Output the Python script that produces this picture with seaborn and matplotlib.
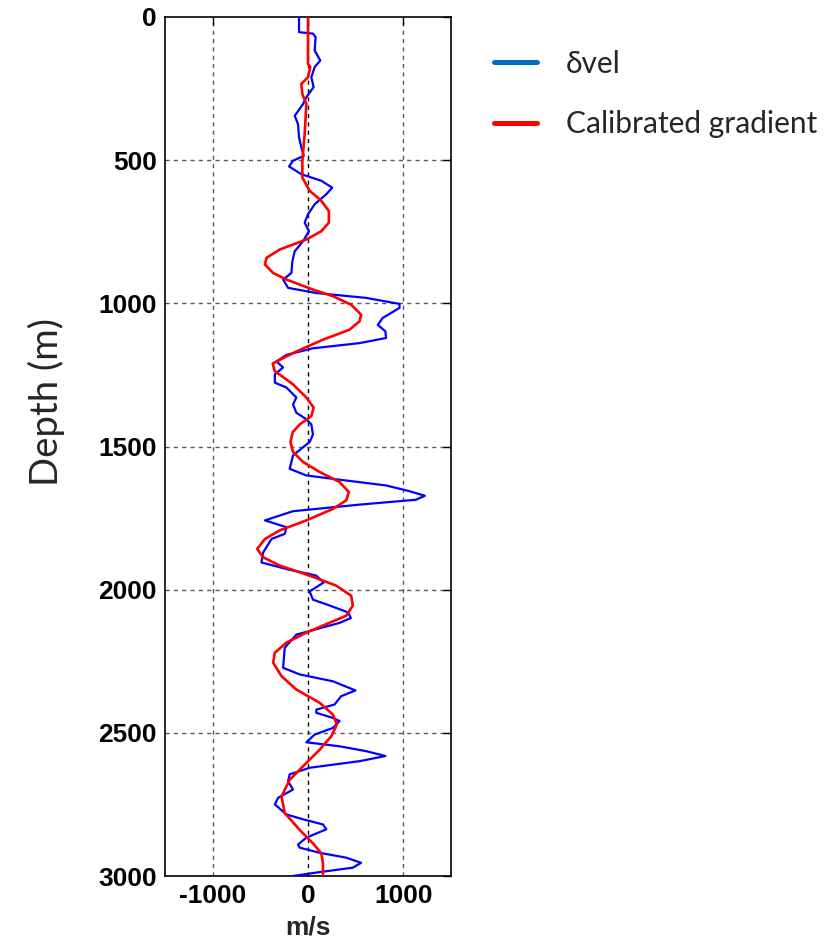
import matplotlib
matplotlib.use("Agg")
import matplotlib.pyplot as plt
import seaborn as sns
import pandas as pd
from matplotlib.lines import Line2D

# ---- data ----
dvel_depth = [0, 53, 58, 70, 117, 152, 175, 210, 245, 280, 304, 345, 374, 420, 455, 485,
              502, 522, 549, 572, 596, 619, 654, 689, 718, 748, 783, 818, 853, 894, 917,
              946, 964, 981, 1002, 1016, 1051, 1075, 1098, 1121, 1139, 1157, 1180, 1203,
              1224, 1248, 1277, 1294, 1329, 1353, 1382, 1405, 1423, 1458, 1484, 1531, 1578,
              1601, 1613, 1636, 1656, 1672, 1686, 1703, 1726, 1758, 1782, 1805, 1823, 1870,
              1905, 1928, 1951, 1975, 2006, 2035, 2052, 2079, 2099, 2116, 2157, 2203, 2273,
              2296, 2320, 2352, 2372, 2401, 2419, 2430, 2448, 2459, 2483, 2506, 2533, 2547,
              2564, 2581, 2599, 2622, 2645, 2669, 2698, 2727, 2750, 2785, 2802, 2820, 2837,
              2866, 2890, 2901, 2919, 2936, 2954, 2971, 2988, 3000]
dvel_value = [-94, -94, 52, 80, 70, 129, 70, 35, 59, -17, -52, -139, -105, -94, -70, -45,
              -157, -199, -70, 140, 254, 192, 70, 0, -35, 10, -52, -139, -164, -174, -261,
              -209, 87, 610, 960, 960, 784, 732, 812, 819, 540, 52, -226, -331,
              -261, -348, -348, -226, -122, -157, -122, -17, 35, 52, 18, -157, -192,
              -17, 261, 819, 1063, 1226, 1132, 540, -157, -452, -226, -244, -383, -470,
              -488, -226, 87, 165, 17, 52, 200, 418, 450, 331, -122, -244, -261,
              -87, 261, 498, 348, 279, 87, 87, 261, 331, 261, 70, -17, 331,
              610, 812, 540, 17, -192, -209, -157, -314, -348, -226, -52, 157, 192,
              -17, -105, -87, 122, 401, 557, 470, 87, -157]

grad_depth = [0, 163, 175, 210, 234, 269, 304, 409, 502, 561, 607, 642, 678, 718, 748, 777,
              812, 841, 864, 894, 917, 952, 975, 1005, 1040, 1063, 1092, 1127, 1168, 1210,
              1236, 1283, 1329, 1364, 1394, 1423, 1450, 1484, 1519, 1554, 1589, 1624, 1659,
              1688, 1718, 1758, 1793, 1823, 1858, 1887, 1916, 1951, 1986, 2021, 2056, 2091,
              2122, 2150, 2185, 2220, 2255, 2302, 2349, 2395, 2436, 2471, 2512, 2559, 2605,
              2664, 2722, 2780, 2839, 2886, 2921, 2956, 3000]
grad_value = [0, 0, 24, 0, -70, -59, -17, -35, -59, -59, 18, 140, 219, 219, 140, -17,
              -296, -435, -452, -366, -226, 52, 261, 453, 558, 540, 436, 157, -122, -370,
              -350, -157, -17, 59, 35, -87, -160, -184, -157, -52, 122, 331, 429,
              401, 261, -17, -296, -452, -533, -470, -296, 18, 296, 453, 470, 401,
              180, -17, -226, -348, -366, -278, -122, 122, 261, 303, 244, 122, -17,
              -192, -278, -244, -87, 52, 140, 157, 157]

x_ticks = [-1000, 0, 1000]
y_ticks = [0, 500, 1000, 1500, 2000, 2500, 3000]
legend_labels = ["\u03b4vel", "Calibrated gradient"]

df_vel = pd.DataFrame({"depth": dvel_depth, "value": dvel_value})
df_grad = pd.DataFrame({"depth": grad_depth, "value": grad_value})

sns.set_theme(style="white")
plt.rcParams["font.family"] = ["Liberation Sans", "DejaVu Sans"]
plt.rcParams["axes.unicode_minus"] = False

fig = plt.figure(figsize=(8.35, 9.42), dpi=100)
ax = fig.add_axes([165 / 835, 1 - 876 / 942, (451 - 165) / 835, (876 - 17) / 942])

# grid
for t in x_ticks:
    ax.axvline(t, color="0.35" if t != 0 else "black", lw=1.0,
               ls=(0, (3, 3)), zorder=0)
for t in y_ticks[1:-1]:
    ax.axhline(t, color="0.35", lw=1.0, ls=(0, (3, 3)), zorder=0)

sns.lineplot(data=df_vel, x="value", y="depth", sort=False, estimator=None,
             color="#0000FF", lw=1.6, ax=ax, zorder=3)
sns.lineplot(data=df_grad, x="value", y="depth", sort=False, estimator=None,
             color="#FF0000", lw=1.9, ax=ax, zorder=4)
for ln in ax.get_lines():
    ln.set_solid_joinstyle("round")

ax.set_xlim(-1500, 1500)
ax.set_ylim(3000, 0)
ax.set_xticks(x_ticks)
ax.set_yticks(y_ticks)
ax.tick_params(direction="in", length=6, width=1, top=True, right=True,
               labelsize=19, colors="black", pad=6)
for lab in ax.get_xticklabels() + ax.get_yticklabels():
    lab.set_fontweight("bold")
for s in ax.spines.values():
    s.set_color("black")
    s.set_linewidth(1.2)

ax.set_xlabel("m/s", fontsize=19, fontweight="bold", labelpad=5)
ax.set_ylabel("")
fig.text(46 / 835, 1 - 402 / 942, "Depth (m)", rotation=90, fontsize=27.5,
         family=["Lato", "DejaVu Sans"], ha="center", va="center")

handles = [Line2D([], [], color="#0070C0", lw=3.6),
           Line2D([], [], color="#FF0000", lw=3.6)]
fig.legend(handles, legend_labels, loc="upper left",
           bbox_to_anchor=(467 / 835, 1 - 23 / 942), frameon=False,
           prop={"family": ["Lato", "DejaVu Sans"], "size": 21.5},
           handlelength=1.45, handletextpad=0.95, labelspacing=1.08)

fig.savefig("out.png", dpi=100)
